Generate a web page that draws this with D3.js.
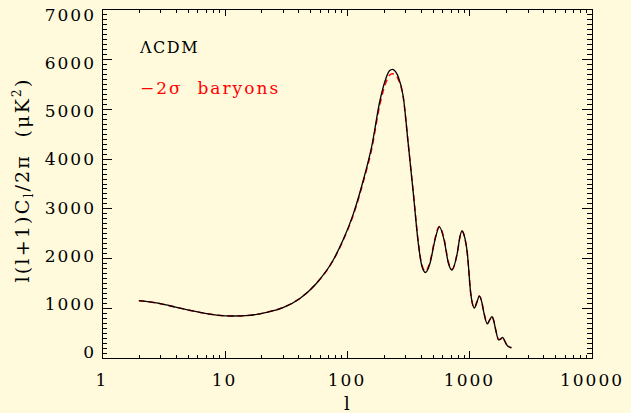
<!DOCTYPE html>
<html>
<head>
<meta charset="utf-8">
<script src="https://cdn.jsdelivr.net/npm/d3@7"></script>
<style>
  html, body { margin: 0; padding: 0; background: #fffadc; }
  svg { display: block; }
  text { font-family: "DejaVu Serif", serif; }
</style>
</head>
<body>
<svg id="chart" width="631" height="413"></svg>
<script>
// Multipole l and band power l(l+1)C_l/2π (μK²)
const lcdmL = [2, 3, 4, 5, 6.3, 8.6, 11.8, 16, 22, 30, 41, 56, 77, 93, 113, 136, 159, 186, 208, 222, 235, 248, 262, 288, 316, 348, 382, 407, 437, 476, 523, 567, 620, 673, 718, 794, 840, 869, 905, 960, 1023, 1096, 1150, 1203, 1260, 1313, 1397, 1460, 1527, 1580, 1625, 1731, 1800, 1866, 1940, 2013, 2140, 2200];
const lcdmCl = [1150, 1090, 1020, 965, 915, 862, 842, 855, 915, 1010, 1190, 1490, 1960, 2370, 2900, 3570, 4240, 5170, 5610, 5760, 5790, 5750, 5640, 5240, 4300, 3300, 2300, 1860, 1715, 1900, 2370, 2630, 2370, 1900, 1765, 2100, 2460, 2550, 2460, 2100, 1300, 1000, 1120, 1240, 1120, 900, 685, 760, 830, 740, 600, 365, 380, 415, 340, 265, 215, 210];

const baryonL = [2, 3, 4, 5, 6.3, 8.6, 11.8, 16, 22, 30, 41, 56, 77, 93, 113, 136, 159, 186, 208, 222, 235, 248, 262, 288, 316, 348, 382, 407, 437, 476, 523, 567, 620, 673, 718, 794, 840, 869, 905, 960, 1023, 1096, 1150, 1203, 1260, 1313, 1397, 1460, 1527, 1580, 1625, 1731, 1800, 1866, 1940, 2013, 2140, 2200];
const baryonCl = [1150, 1090, 1020, 965, 915, 862, 842, 855, 915, 1010, 1190, 1490, 1955, 2360, 2880, 3540, 4190, 5100, 5530, 5670, 5700, 5680, 5590, 5220, 4300, 3310, 2320, 1880, 1740, 1930, 2400, 2640, 2390, 1920, 1780, 2100, 2450, 2540, 2450, 2090, 1300, 1010, 1130, 1245, 1125, 905, 690, 765, 830, 740, 600, 370, 385, 415, 340, 265, 215, 210];

const xTickValues = [1, 10, 100, 1000, 10000];
const xTickLabels = ["1", "10", "100", "1000", "10000"];
const yTickValues = [0, 1000, 2000, 3000, 4000, 5000, 6000, 7000];
const yTickLabels = ["0", "1000", "2000", "3000", "4000", "5000", "6000", "7000"];

const svg = d3.select("#chart");
const W = 631, H = 413;
const m = { left: 102, right: 39, top: 9, bottom: 55 };
const x0 = m.left, x1 = W - m.right, y0 = H - m.bottom, y1 = m.top;

svg.append("rect").attr("width", W).attr("height", H).attr("fill", "#fffadc");

const x = d3.scaleLog().domain([1, 10000]).range([x0, x1]);
const y = d3.scaleLinear().domain([0, 7000]).range([y0, y1]);

// minor tick positions
const xMinor = [];
for (let d = 1; d < 10000; d *= 10) for (let k = 2; k <= 9; k++) xMinor.push(d * k);
const yMinor = d3.range(0, 7001, 100).filter(v => v % 1000 !== 0);

const tickG = svg.append("g").attr("stroke", "#000").attr("stroke-width", 1).attr("shape-rendering", "crispEdges");
// bottom and top ticks (inward)
[[y0, -1], [y1, 1]].forEach(([yy, dir]) => {
  tickG.selectAll(null).data(xTickValues).join("line")
    .attr("x1", d => Math.round(x(d)) + 0.5).attr("x2", d => Math.round(x(d)) + 0.5)
    .attr("y1", yy).attr("y2", yy + dir * 7);
  tickG.selectAll(null).data(xMinor).join("line")
    .attr("x1", d => Math.round(x(d)) + 0.5).attr("x2", d => Math.round(x(d)) + 0.5)
    .attr("y1", yy).attr("y2", yy + dir * 3.5);
});
// left and right ticks (inward)
[[x0, 1], [x1, -1]].forEach(([xx, dir]) => {
  tickG.selectAll(null).data(yTickValues).join("line")
    .attr("y1", d => Math.round(y(d)) + 0.5).attr("y2", d => Math.round(y(d)) + 0.5)
    .attr("x1", xx).attr("x2", xx + dir * 10);
  tickG.selectAll(null).data(yMinor).join("line")
    .attr("y1", d => Math.round(y(d)) + 0.5).attr("y2", d => Math.round(y(d)) + 0.5)
    .attr("x1", xx).attr("x2", xx + dir * 5);
});

// frame
svg.append("rect")
  .attr("x", x0 + 0.5).attr("y", y1 + 0.5)
  .attr("width", x1 - x0).attr("height", y0 - y1)
  .attr("fill", "none").attr("stroke", "#000").attr("stroke-width", 1)
  .attr("shape-rendering", "crispEdges");

// tick labels
svg.append("g").selectAll("text").data(xTickValues).join("text")
  .attr("x", d => x(d)).attr("y", 386)
  .attr("text-anchor", "middle")
  .attr("font-size", 17).attr("letter-spacing", 2)
  .attr("fill", "#000")
  .text((d, i) => xTickLabels[i]);

// y labels sit slightly inside the outermost ticks
svg.append("g").selectAll("text").data(yTickValues).join("text")
  .attr("x", 96).attr("y", d => y(d) - 6 + (d / 7000) * 12)
  .attr("dy", "0.35em")
  .attr("text-anchor", "end")
  .attr("font-size", 17).attr("letter-spacing", 2)
  .attr("fill", "#000")
  .text((d, i) => yTickLabels[i]);

// axis titles
svg.append("text")
  .attr("x", x(100)).attr("y", 410)
  .attr("text-anchor", "middle").attr("font-size", 18)
  .text("l");

const yt = svg.append("text")
  .attr("transform", "translate(29,180) rotate(-90)")
  .attr("text-anchor", "middle").attr("font-size", 19).attr("letter-spacing", 2.2)
  .attr("xml:space", "preserve");
yt.append("tspan").text("l(l+1)C");
yt.append("tspan").attr("font-size", 12).attr("dy", 4).text("l");
yt.append("tspan").attr("dy", -4).text("/2π  (μK");
yt.append("tspan").attr("font-size", 12).attr("dy", -8).text("2");
yt.append("tspan").attr("dy", 8).text(")");

// spectra
const line = d3.line()
  .x(d => x(d[0])).y(d => y(d[1]))
  .curve(d3.curveMonotoneX);

const baryonPts = baryonL.map((l, i) => [l, baryonCl[i]]);
const lcdmPts = lcdmL.map((l, i) => [l, lcdmCl[i]]);

svg.append("path").datum(baryonPts)
  .attr("d", line).attr("fill", "none")
  .attr("stroke", "#ff0000").attr("stroke-width", 1.5)
  .attr("stroke-dasharray", "6,4");

svg.append("path").datum(lcdmPts)
  .attr("d", line).attr("fill", "none")
  .attr("stroke", "#000").attr("stroke-width", 1.3);

// legend
svg.append("text").attr("x", 140).attr("y", 53)
  .attr("font-size", 16).attr("letter-spacing", 1.5).attr("fill", "#000")
  .text("ΛCDM");
svg.append("text").attr("x", 140).attr("y", 94)
  .attr("font-size", 17).attr("letter-spacing", 2).attr("fill", "#ff0000")
  .attr("xml:space", "preserve")
  .text("−2σ  baryons");
</script>
</body>
</html>
